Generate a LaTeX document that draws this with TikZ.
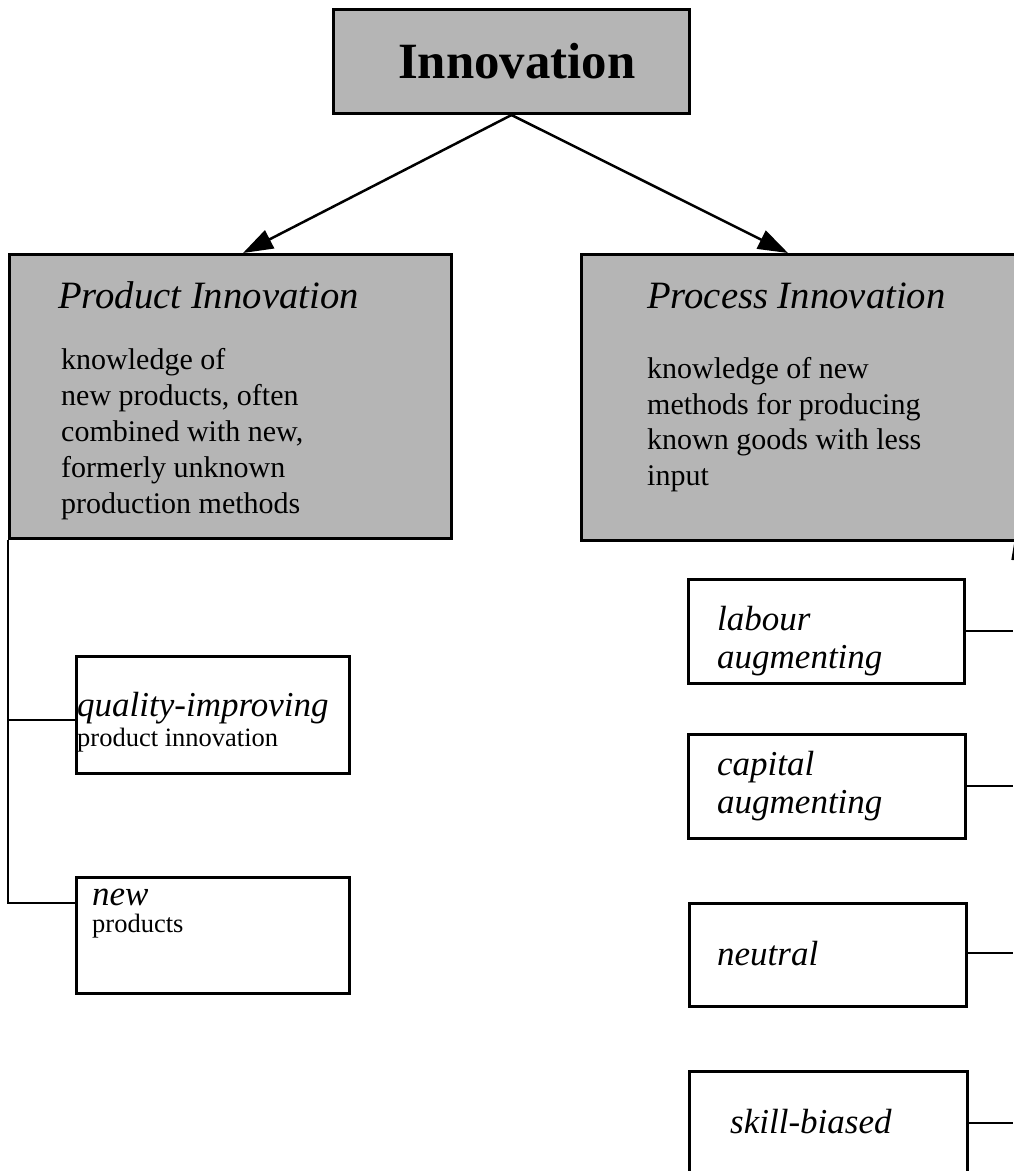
\documentclass[tikz,border=0pt]{standalone}
\usepackage{fontspec}
\setmainfont{Liberation Serif}
\usetikzlibrary{arrows.meta}
\begin{document}
\begin{tikzpicture}[x=1pt,y=-1pt,
  graybox/.style={draw=black, line width=3pt, fill=black!29, inner sep=0pt, anchor=north west},
  whitebox/.style={draw=black, line width=2.5pt, fill=white, inner sep=0pt, anchor=north west},
  conn/.style={line width=2.4pt},
  arr/.style={line width=2.5pt, -{Triangle[length=30pt,width=20pt]}},
  txt/.style={inner sep=0pt, anchor=base west},
  titlefont/.style={font=\bfseries\fontsize{50.8}{60}\selectfont},
  headfont/.style={font=\itshape\fontsize{38.7}{44}\selectfont},
  bodyfont/.style={font=\fontsize{30}{36}\selectfont},
  labfont/.style={font=\itshape\fontsize{35}{40}\selectfont},
  smallfont/.style={font=\fontsize{26.5}{30}\selectfont},
]
\useasboundingbox (0,0) rectangle (1013,1171);

% top box
\node[graybox, minimum width=356pt, minimum height=104pt] (innov) at (332,8) {};
\node[txt, titlefont] (innovT) at (398,78) {Innovation};

% product innovation
\node[graybox, minimum width=442pt, minimum height=284pt] (prod) at (8,253) {};
\node[txt, headfont] (prodH) at (58,308) {Product Innovation};
\node[txt, bodyfont] (prodL1) at (61,369) {knowledge of};
\node[txt, bodyfont] (prodL2) at (61,405) {new products, often};
\node[txt, bodyfont] (prodL3) at (61,441) {combined with new,};
\node[txt, bodyfont] (prodL4) at (61,477) {formerly unknown};
\node[txt, bodyfont] (prodL5) at (61,513) {production methods};

% process innovation
\node[graybox, minimum width=460pt, minimum height=286pt] (proc) at (580,253) {};
\node[txt, headfont] (procH) at (647,308) {Process Innovation};
\node[txt, bodyfont] (procL1) at (647,378) {knowledge of new};
\node[txt, bodyfont] (procL2) at (647,414) {methods for producing};
\node[txt, bodyfont] (procL3) at (647,449) {known goods with less};
\node[txt, bodyfont] (procL4) at (647,485) {input};

% arrows
\draw[arr] (innov.south) -- ([xshift=235pt]prod.north west);
\draw[arr] (innov.south) -- ([xshift=208pt]proc.north west);

% product sub-boxes
\node[whitebox, minimum width=273pt, minimum height=117pt] (qual) at (75,655) {};
\node[txt, labfont] (qualT) at (77,716) {quality-improving};
\node[txt, smallfont] (qualS) at (77,746) {product innovation};

\node[whitebox, minimum width=273pt, minimum height=116pt] (newp) at (75,876) {};
\node[txt, labfont] (newT) at (92,905) {new};
\node[txt, smallfont] (newS) at (92,932) {products};

\draw[conn] (prod.south west) |- ([yshift=-5.5pt]qual.west);
\draw[conn] (prod.south west) |- ([yshift=32pt]newp.west);

% process sub-boxes
\node[whitebox, minimum width=276pt, minimum height=104pt] (lab) at (687,578) {};
\node[txt, labfont] (labT1) at (717,630) {labour};
\node[txt, labfont] (labT2) at (717,668) {augmenting};

\node[whitebox, minimum width=277pt, minimum height=104pt] (cap) at (687,733) {};
\node[txt, labfont] (capT1) at (717,775) {capital};
\node[txt, labfont] (capT2) at (717,813) {augmenting};

\node[whitebox, minimum width=277pt, minimum height=103pt] (neu) at (688,902) {};
\node[txt, labfont] (neuT) at (717,965) {neutral};

\node[whitebox, minimum width=278pt, minimum height=104pt] (skill) at (688,1070) {};
\node[txt, labfont] (skillT) at (730,1133) {skill-biased};

% right bus (cropped at the picture edge)
\coordinate (busR) at (1013,560);
\draw[conn] ([xshift=-27.5pt]proc.south east) -- ([xshift=-0.5pt]busR);
\draw[conn] (lab.east) -- (lab.east -| busR);
\draw[conn] (cap.east) -- (cap.east -| busR);
\draw[conn] ([yshift=1.5pt]neu.east) -- ([yshift=1.5pt]neu.east -| busR);
\draw[conn] (skill.east) -- (skill.east -| busR);
\end{tikzpicture}
\end{document}
